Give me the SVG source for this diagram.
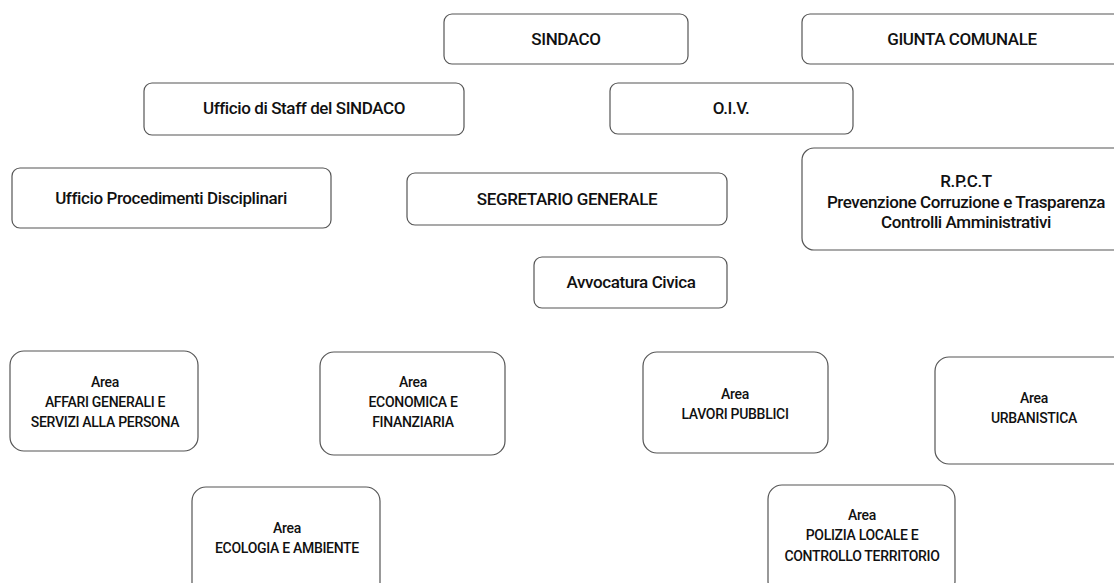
<svg xmlns="http://www.w3.org/2000/svg" width="1114" height="583" viewBox="0 0 1114 583">
<style>
.b{fill:#fff;stroke:#555;stroke-width:1.2}
.t{font-family:Roboto,"Liberation Sans",sans-serif;font-size:17px;font-weight:500;letter-spacing:-0.4px;fill:#111;text-anchor:middle}
.a{font-family:Roboto,"Liberation Sans",sans-serif;font-size:14px;font-weight:500;letter-spacing:-0.3px;fill:#111;text-anchor:middle}
</style>
<rect width="1114" height="583" fill="#fff"/>
<g id="connectors"></g>
<g id="sindaco"><rect class="b" x="444" y="14" width="244" height="50" rx="8"/><text class="t" x="566" y="45">SINDACO</text></g>
<g id="giunta"><rect class="b" x="802" y="14" width="320" height="50" rx="8"/><text class="t" x="962" y="45">GIUNTA COMUNALE</text></g>
<g id="staff"><rect class="b" x="144" y="83" width="320" height="52" rx="8"/><text class="t" x="304" y="114">Ufficio di Staff del SINDACO</text></g>
<g id="oiv"><rect class="b" x="610" y="83" width="243" height="51" rx="8"/><text class="t" x="731" y="114">O.I.V.</text></g>
<g id="upd"><rect class="b" x="12" y="168" width="319" height="60" rx="8"/><text class="t" x="171" y="204">Ufficio Procedimenti Disciplinari</text></g>
<g id="segretario"><rect class="b" x="407" y="173" width="320" height="52" rx="8"/><text class="t" x="567" y="205">SEGRETARIO GENERALE</text></g>
<g id="rpct"><rect class="b" x="802" y="148" width="330" height="102" rx="12"/><text class="t" x="966" y="187">R.P.C.T</text><text class="t" x="966" y="208">Prevenzione Corruzione e Trasparenza</text><text class="t" x="966" y="228">Controlli Amministrativi</text></g>
<g id="avvocatura"><rect class="b" x="534" y="257" width="193" height="51" rx="8"/><text class="t" x="631" y="288">Avvocatura Civica</text></g>
<g id="affari"><rect class="b" x="10" y="351" width="188" height="100" rx="14"/><text class="a" x="105" y="387">Area</text><text class="a" x="105" y="407">AFFARI GENERALI E</text><text class="a" x="105" y="427">SERVIZI ALLA PERSONA</text></g>
<g id="economica"><rect class="b" x="320" y="352" width="185" height="103" rx="14"/><text class="a" x="413" y="387">Area</text><text class="a" x="413" y="407">ECONOMICA E</text><text class="a" x="413" y="427">FINANZIARIA</text></g>
<g id="lavori"><rect class="b" x="643" y="352" width="185" height="101" rx="14"/><text class="a" x="735" y="399">Area</text><text class="a" x="735" y="419">LAVORI PUBBLICI</text></g>
<g id="urbanistica"><rect class="b" x="935" y="357" width="200" height="107" rx="14"/><text class="a" x="1034" y="403">Area</text><text class="a" x="1034" y="423">URBANISTICA</text></g>
<g id="ecologia"><rect class="b" x="192" y="487" width="188" height="110" rx="14"/><text class="a" x="287" y="533">Area</text><text class="a" x="287" y="553">ECOLOGIA E AMBIENTE</text></g>
<g id="polizia"><rect class="b" x="768" y="485" width="187" height="110" rx="14"/><text class="a" x="862" y="520">Area</text><text class="a" x="862" y="540">POLIZIA LOCALE E</text><text class="a" x="862" y="561">CONTROLLO TERRITORIO</text></g>
</svg>
